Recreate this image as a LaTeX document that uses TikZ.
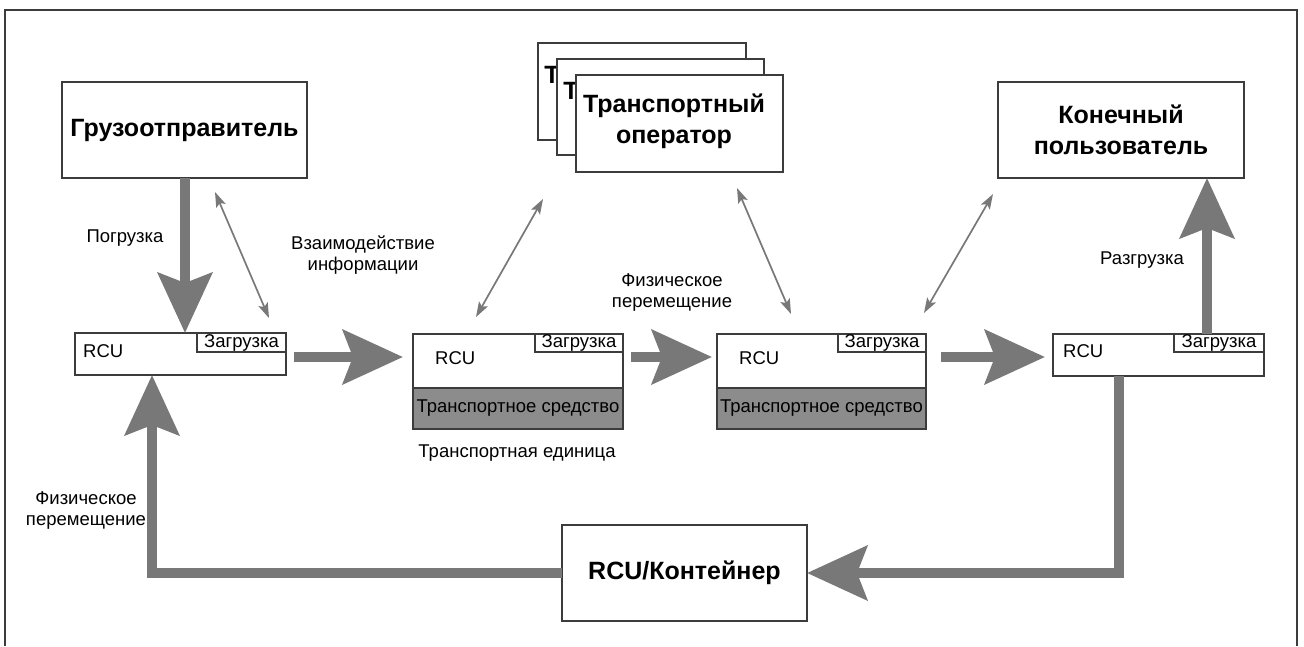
\documentclass[tikz,border=0pt]{standalone}
\usepackage{fontspec}
\setmainfont{Liberation Sans}
\usetikzlibrary{arrows.meta}
\definecolor{arrowgray}{HTML}{787878}
\definecolor{fillgray}{HTML}{8C8C8C}
\definecolor{edge}{HTML}{3C3C3C}
\newcommand{\smallfont}{\fontsize{18.5}{21}\selectfont}
\newcommand{\bigfont}{\fontsize{25}{31}\selectfont\bfseries}
\begin{document}
\begin{tikzpicture}[x=1pt,y=-1pt,
  box/.style={draw=edge, line width=1.2pt, fill=white, inner sep=0pt, outer sep=0pt, anchor=north west},
  vehicle/.style={box, fill=fillgray, font=\smallfont},
  loadbox/.style={box, font=\smallfont},
  txt/.style={inner sep=0pt, font=\smallfont, align=center},
  title/.style={inner sep=0pt, font=\bigfont, align=center},
  bigarrow/.style={draw=arrowgray, line width=10pt,
    -{Stealth[length=60pt,width=54pt,inset=10pt]}},
  infoarrow/.style={draw=arrowgray, line width=1.7pt,
    {Stealth[length=15pt,width=10pt,inset=3pt]}-{Stealth[length=15pt,width=10pt,inset=3pt]}}]
\useasboundingbox (0,0) rectangle (1304,646);
\fill[white] (0,0) rectangle (1304,646);
\draw[edge, line width=1.5pt] (5,646) -- (5,10) -- (1297,10) -- (1297,646);

% participants
\node[box, minimum width=245pt, minimum height=96pt] (shipper) at (62,82) {};
\node[title] at (shipper.center) {Грузоотправитель};

% stack of transport operators, back to front
\node[box, minimum width=208pt, minimum height=97pt] (op1) at (538,43) {};
\node[title] (op1t) at (552,75) {Т};
\node[box, minimum width=207pt, minimum height=96pt] (op2) at (557,59) {};
\node[title] (op2t) at (571,91) {Т};
\node[box, minimum width=207pt, minimum height=97pt] (op3) at (576,75) {};
\node[title] (optext) at (674,121) {Транспортный\\оператор};

\node[box, minimum width=246pt, minimum height=96pt] (enduser) at (998,82) {};
\node[title] at (enduser.center) {Конечный\\пользователь};

\node[box, minimum width=245pt, minimum height=96pt] (cont) at (562,525) {};
\node[title] at (cont.center) {RCU/Контейнер};

% transport units
\node[box, minimum width=211pt, minimum height=42pt] (rcu1) at (75,333) {};
\node[loadbox, minimum width=89pt, minimum height=19pt] (load1) at (197,333) {Загрузка};
\node[txt, anchor=west] (r1) at (83,351) {RCU};

\node[box, minimum width=210pt, minimum height=95pt] (rcu2) at (413,334) {};
\node[vehicle, minimum width=210pt, minimum height=41pt] (veh2) at (413,388) {Транспортное средство};
\node[loadbox, minimum width=88pt, minimum height=18pt] (load2) at (535,334) {Загрузка};
\node[txt, anchor=west] (r2) at (435,358) {RCU};

\node[box, minimum width=209pt, minimum height=95pt] (rcu3) at (717,334) {};
\node[vehicle, minimum width=209pt, minimum height=41pt] (veh3) at (717,388) {Транспортное средство};
\node[loadbox, minimum width=88pt, minimum height=18pt] (load3) at (838,334) {Загрузка};
\node[txt, anchor=west] (r3) at (739,358) {RCU};

\node[box, minimum width=211pt, minimum height=42pt] (rcu4) at (1053,334) {};
\node[loadbox, minimum width=90pt, minimum height=18pt] (load4) at (1174,334) {Загрузка};
\node[txt, anchor=west] (r4) at (1063,351) {RCU};

% labels
\node[txt] (lload) at (125,238) {Погрузка};
\node[txt] (linfo) at (363,255) {Взаимодействие\\информации};
\node[txt] (lmove) at (672,293) {Физическое\\перемещение};
\node[txt] (lunload) at (1142,260) {Разгрузка};
\node[txt] (lunit) at (517,453) {Транспортная единица};
\node[txt] (lreturn) at (86,511) {Физическое\\перемещение};

% anchor points for the flows
\coordinate (px) at (185,0);
\coordinate (ux) at (1207,0);
\coordinate (a1) at (294,357);
\coordinate (a2) at (631,357);
\coordinate (a3) at (941,357);
\coordinate (rx) at (1119,573);
\coordinate (lx) at (152,573);

% physical flow
\draw[bigarrow] (shipper.south -| px) -- (rcu1.north -| px);
\draw[bigarrow] (load4.north -| ux) -- (enduser.south -| ux);
\draw[bigarrow, shorten >=10pt] (a1) -- (rcu2.west |- a1);
\draw[bigarrow, shorten >=5pt] (a2) -- (rcu3.west |- a2);
\draw[bigarrow, shorten >=8pt] (a3) -- (rcu4.west |- a3);
\draw[bigarrow] (rcu4.south -| rx) -- (rx) -- (cont.east);
\draw[bigarrow] (cont.west) -- (lx) -- (rcu1.south -| lx);

% information exchange
\coordinate (i1a) at (215,192); \coordinate (i1b) at (269,318);
\coordinate (i2a) at (543,199); \coordinate (i2b) at (476,317);
\coordinate (i3a) at (737,188); \coordinate (i3b) at (791,314);
\coordinate (i4a) at (993,194); \coordinate (i4b) at (924,313);
\draw[infoarrow] (i1a) -- (i1b);
\draw[infoarrow] (i2a) -- (i2b);
\draw[infoarrow] (i3a) -- (i3b);
\draw[infoarrow] (i4a) -- (i4b);
\end{tikzpicture}
\end{document}
